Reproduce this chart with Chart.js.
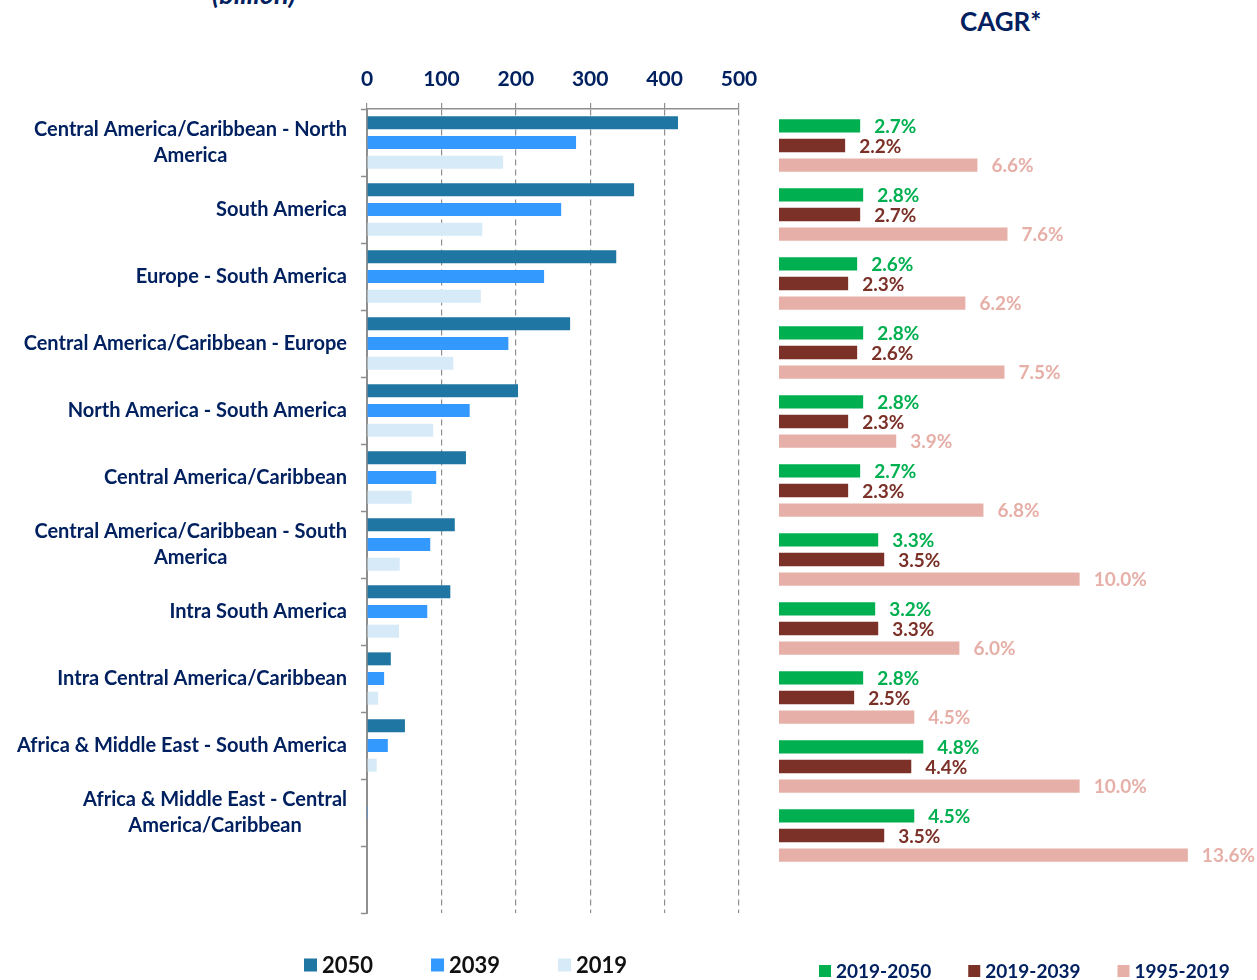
<!DOCTYPE html>
<html><head><meta charset="utf-8">
<script src="https://cdn.jsdelivr.net/npm/chart.js@4.4.1/dist/chart.umd.min.js"></script>
<style>
html,body{margin:0;padding:0;background:#fff;width:1257px;height:980px;overflow:hidden;}
#wrapL{position:absolute;left:0;top:0;width:770px;height:980px;}
#wrapR{position:absolute;left:770px;top:0;width:487px;height:980px;}
.t{position:absolute;font-family:Lato,"Open Sans",sans-serif;color:#002060;white-space:nowrap;}
</style></head><body>
<div class="t" id="unit" style="left:212px;top:-23px;font-size:27px;font-style:italic;font-weight:bold;">(billion)</div>
<div class="t" id="cagr" style="left:960px;top:5px;font-size:26px;font-weight:bold;">CAGR*</div>
<div id="wrapL"><canvas id="left"></canvas></div>
<div id="wrapR"><canvas id="right"></canvas></div>
<script>
// ---- data ----
const categories = [
  ["Central America/Caribbean - North", "America"],
  "South America",
  "Europe - South America",
  "Central America/Caribbean - Europe",
  "North America - South America",
  "Central America/Caribbean",
  ["Central America/Caribbean - South", "America"],
  "Intra South America",
  "Intra Central America/Caribbean",
  "Africa & Middle East - South America",
  ["Africa & Middle East - Central", "America/Caribbean"]
];
const volumeSeries = ["2050", "2039", "2019"];
const values2050 = [418, 359, 335, 273, 203, 133, 118, 112, 32, 51, 0.8];
const values2039 = [281, 261, 238, 190, 138, 93, 85, 81, 23, 28, 0.3];
const values2019 = [183, 155, 153, 116, 89, 60, 44, 43, 15, 13, 0.8];
const xTicks = [0, 100, 200, 300, 400, 500];

const cagrSeries = ["2019-2050", "2019-2039", "1995-2019"];
const cagr2019_2050 = [2.7, 2.8, 2.6, 2.8, 2.8, 2.7, 3.3, 3.2, 2.8, 4.8, 4.5];
const cagr2019_2039 = [2.2, 2.7, 2.3, 2.6, 2.3, 2.3, 3.5, 3.3, 2.5, 4.4, 3.5];
const cagr1995_2019 = [6.6, 7.6, 6.2, 7.5, 3.9, 6.8, 10.0, 6.0, 4.5, 10.0, 13.6];

// ---- styles ----
const NAVY = '#002060';
const FONT = 'Lato, "Open Sans", sans-serif';
const volColors = ['#1F76A3', '#3399FF', '#D6EAF8'];
const cagrColors = ['#00B050', '#7B3028', '#E6AFA7'];
const GRID = '#8f8f8f';

// category labels: block right-aligned, lines centered within the block
const catLabels = {
  id: 'catLabels',
  afterDraw(chart) {
    const ys = chart.scales.y, ctx = chart.ctx;
    const rightEdge = chart.chartArea.left - 20;
    ctx.save();
    ctx.font = 'bold 20px ' + FONT;
    ctx.fillStyle = NAVY;
    ctx.textAlign = 'center';
    ctx.textBaseline = 'middle';
    categories.forEach((lab, i) => {
      const lines = Array.isArray(lab) ? lab : [lab];
      const w = Math.max(...lines.map(s => ctx.measureText(s).width));
      const cx = rightEdge - w / 2;
      const cy = ys.getPixelForValue(i);
      lines.forEach((s, j) => ctx.fillText(s, cx, cy + (j - (lines.length - 1) / 2) * 26));
    });
    ctx.restore();
  }
};

// simple legend drawn from datasets
const boxLegend = {
  id: 'boxLegend',
  afterDraw(chart, args, o) {
    const ctx = chart.ctx;
    ctx.save();
    ctx.font = 'bold ' + o.size + 'px ' + FONT;
    ctx.textBaseline = 'middle';
    ctx.textAlign = 'left';
    let x = o.x;
    chart.data.datasets.forEach(ds => {
      ctx.fillStyle = ds.backgroundColor;
      ctx.fillRect(x, o.y - o.box / 2, o.box, o.box);
      ctx.fillStyle = o.color;
      const tx = x + o.box + 5;
      ctx.fillText(ds.label, tx, o.y + 1);
      x = tx + ctx.measureText(ds.label).width + o.gap;
    });
    ctx.restore();
  }
};

// value labels for the CAGR bars
const cagrLabels = {
  id: 'cagrLabels',
  afterDatasetsDraw(chart) {
    const ctx = chart.ctx;
    ctx.save();
    ctx.font = 'bold 19px ' + FONT;
    ctx.textBaseline = 'middle';
    ctx.textAlign = 'left';
    chart.data.datasets.forEach((ds, di) => {
      const meta = chart.getDatasetMeta(di);
      ctx.fillStyle = cagrColors[di];
      meta.data.forEach((bar, i) => {
        ctx.fillText(ds.data[i].toFixed(1) + '%', bar.x + 14, bar.y + 1);
      });
    });
    ctx.restore();
  }
};

Chart.defaults.font.family = FONT;
Chart.defaults.animation = false;

new Chart(document.getElementById('left'), {
  type: 'bar',
  data: {
    labels: [...categories.map(c => Array.isArray(c) ? c.join(' ') : c), ''],
    datasets: [
      { label: volumeSeries[0], data: values2050, backgroundColor: volColors[0] },
      { label: volumeSeries[1], data: values2039, backgroundColor: volColors[1] },
      { label: volumeSeries[2], data: values2019, backgroundColor: volColors[2] }
    ]
  },
  options: {
    indexAxis: 'y',
    responsive: true,
    maintainAspectRatio: false,
    categoryPercentage: 0.88,
    barPercentage: 0.66,
    layout: { padding: { top: 39, bottom: 67, left: 0, right: 31 } },
    plugins: {
      legend: { display: false },
      tooltip: { enabled: false },
      boxLegend: { x: 304, y: 965, box: 13, gap: 58, size: 22, color: '#111111' }
    },
    scales: {
      x: {
        position: 'top',
        min: 0, max: 500,
        afterBuildTicks: s => { s.ticks = xTicks.map(v => ({ value: v })); },
        afterFit: s => { s.height = 70; },
        ticks: { color: NAVY, font: { size: 21, weight: 'bold' }, padding: 11 },
        grid: {
          color: c => (c.tick && c.tick.value === 0) ? 'rgba(0,0,0,0)' : GRID,
          lineWidth: 1.2, drawTicks: true, tickLength: 6, tickColor: GRID, tickWidth: 1.2,
          borderDash: [6, 4]
        },
        border: { display: true, color: GRID, width: 1.5, dash: [6, 4] }
      },
      y: {
        afterFit: s => { s.width = 367; },
        ticks: { display: false },
        grid: { drawOnChartArea: false, drawTicks: true, tickLength: 6, color: GRID, tickColor: GRID, tickWidth: 1.5, offset: true },
        border: { display: true, color: GRID, width: 2 }
      }
    }
  },
  plugins: [catLabels, boxLegend]
});

new Chart(document.getElementById('right'), {
  type: 'bar',
  data: {
    labels: categories.map(c => Array.isArray(c) ? c.join(' ') : c),
    datasets: [
      { label: cagrSeries[0], data: cagr2019_2050, backgroundColor: cagrColors[0] },
      { label: cagrSeries[1], data: cagr2019_2039, backgroundColor: cagrColors[1] },
      { label: cagrSeries[2], data: cagr1995_2019, backgroundColor: cagrColors[2] }
    ]
  },
  options: {
    indexAxis: 'y',
    responsive: true,
    maintainAspectRatio: false,
    categoryPercentage: 0.855,
    barPercentage: 0.68,
    layout: { padding: { top: 111, bottom: 110, left: 9, right: 0 } },
    plugins: {
      legend: { display: false },
      tooltip: { enabled: false },
      boxLegend: { x: 49, y: 971, box: 12, gap: 37, size: 19, color: NAVY }
    },
    scales: {
      x: { display: false, min: 0, max: 15.9 },
      y: { display: false }
    }
  },
  plugins: [cagrLabels, boxLegend]
});
</script>
</body></html>
